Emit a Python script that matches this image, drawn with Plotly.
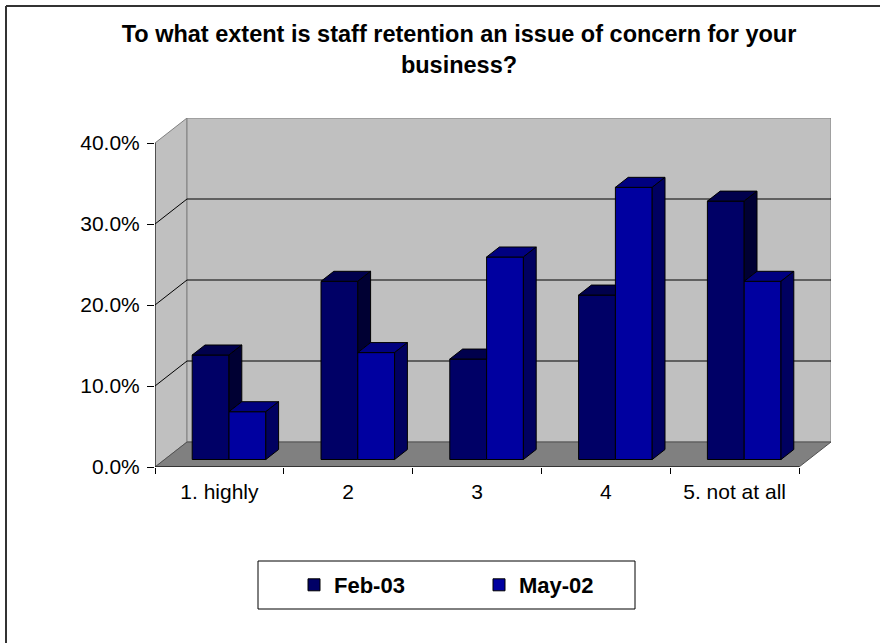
import plotly.graph_objects as go

categories = ["1. highly", "2", "3", "4", "5. not at all"]
feb03 = [12.9, 22.0, 12.4, 20.3, 31.9]
may02 = [5.9, 13.2, 25.0, 33.6, 22.0]
y_ticks = [0, 10, 20, 30, 40]
y_ticktext = [f"{v:.1f}%" for v in y_ticks]

FONT = "Liberation Sans, Arial, sans-serif"

# Pixel geometry of the plotting box (front axes + receding 3-D walls)
PX_CAT = 128.8          # px per category on the front axis
PX_PCT = 8.1            # px per percentage point
WALL_DX, WALL_DY = 32, 25
L, T = 155, 118
W = len(categories) * PX_CAT + WALL_DX
H = y_ticks[-1] * PX_PCT + WALL_DY
R = 880 - L - W
B = 643 - T - H

# Wall depth expressed in data units
DX = WALL_DX / PX_CAT
DY = WALL_DY / PX_PCT
X0, X1 = -0.5, len(categories) - 0.5
YMAX = y_ticks[-1]

# Bars: gap width 150 %, bars sit in the middle 40 % of the depth
BAR_W = 1 / 3.5
fx, fy = 0.3 * DX, 0.3 * DY
bx, by = 0.4 * DX, 0.4 * DY

COL = {
    "Feb-03": {"front": "#000066", "top": "#00004C", "side": "#000033"},
    "May-02": {"front": "#0000A0", "top": "#000080", "side": "#000060"},
}


def px_to_paper_x(px):
    return (px - L) / W


def px_to_paper_y(py):
    return (T + H - py) / H


def poly_xy(polys):
    xs, ys = [], []
    for p in polys:
        for (a, b) in p + [p[0]]:
            xs.append(a)
            ys.append(b)
        xs.append(None)
        ys.append(None)
    return xs, ys


fig = go.Figure()

# Front faces of the bars
idx = list(range(len(categories)))
fig.add_trace(go.Bar(
    x=idx, y=feb03, base=fy, offset=-BAR_W + fx, width=BAR_W, name="Feb-03",
    marker=dict(color=COL["Feb-03"]["front"], line=dict(color="black", width=1)),
    hoverinfo="skip"))
fig.add_trace(go.Bar(
    x=idx, y=may02, base=fy, offset=fx, width=BAR_W, name="May-02",
    marker=dict(color=COL["May-02"]["front"], line=dict(color="black", width=1)),
    hoverinfo="skip"))

# Top and side faces, clipped where the neighbouring front face hides them
feb_tops, feb_sides, may_tops, may_sides = [], [], [], []
for i, (vf, vm) in enumerate(zip(feb03, may02)):
    xl, xr = i - BAR_W + fx, i + fx
    top = vf + fy
    mtop = vm + fy
    if vm > vf:
        feb_tops.append([(xl, top), (xr, top), (xr, top + by), (xl + bx, top + by)])
    else:
        feb_tops.append([(xl, top), (xr, top), (xr + bx, top + by), (xl + bx, top + by)])
        feb_sides.append([(xr, mtop), (xr + bx, mtop + by), (xr + bx, top + by), (xr, top)])
    ml, mr = i + fx, i + BAR_W + fx
    may_tops.append([(ml, mtop), (mr, mtop), (mr + bx, mtop + by), (ml + bx, mtop + by)])
    may_sides.append([(mr, fy), (mr + bx, fy + by), (mr + bx, mtop + by), (mr, mtop)])

for polys, color in [(feb_tops, COL["Feb-03"]["top"]), (feb_sides, COL["Feb-03"]["side"]),
                     (may_tops, COL["May-02"]["top"]), (may_sides, COL["May-02"]["side"])]:
    xs, ys = poly_xy(polys)
    fig.add_trace(go.Scatter(x=xs, y=ys, mode="lines", fill="toself", fillcolor=color,
                             line=dict(color="black", width=1), showlegend=False,
                             hoverinfo="skip"))

# Walls, floor and gridlines
shapes = []
shapes.append(dict(type="path", layer="below", xref="x", yref="y",
                   path=f"M {X0},0 L {X0+DX},{DY} L {X0+DX},{YMAX+DY} L {X0},{YMAX} Z",
                   fillcolor="#C0C0C0", line=dict(color="#808080", width=1)))
shapes.append(dict(type="rect", layer="below", xref="x", yref="y",
                   x0=X0 + DX, x1=X1 + DX, y0=DY, y1=YMAX + DY,
                   fillcolor="#C0C0C0", line=dict(color="#808080", width=1)))
shapes.append(dict(type="path", layer="below", xref="x", yref="y",
                   path=f"M {X0},0 L {X1},0 L {X1+DX},{DY} L {X0+DX},{DY} Z",
                   fillcolor="#808080", line=dict(color="#505050", width=1)))
for t in y_ticks[1:-1]:
    shapes.append(dict(type="line", layer="below", xref="x", yref="y",
                       x0=X0 + DX, x1=X1 + DX, y0=t + DY, y1=t + DY,
                       line=dict(color="black", width=1)))
    shapes.append(dict(type="line", layer="below", xref="x", yref="y",
                       x0=X0, x1=X0 + DX, y0=t, y1=t + DY,
                       line=dict(color="black", width=1)))
# Front axis lines
shapes.append(dict(type="line", layer="below", xref="x", yref="y",
                   x0=X0, x1=X0, y0=0, y1=YMAX, line=dict(color="black", width=1)))
shapes.append(dict(type="line", layer="below", xref="x", yref="y",
                   x0=X0, x1=X1, y0=0, y1=0, line=dict(color="black", width=1)))

# Legend frame
shapes.append(dict(type="rect", xref="paper", yref="paper",
                   x0=px_to_paper_x(258), x1=px_to_paper_x(635),
                   y0=px_to_paper_y(609), y1=px_to_paper_y(561),
                   line=dict(color="black", width=1), fillcolor="rgba(0,0,0,0)"))
# Chart frame
shapes.append(dict(type="line", xref="paper", yref="paper",
                   x0=px_to_paper_x(6), x1=px_to_paper_x(900),
                   y0=px_to_paper_y(6), y1=px_to_paper_y(6),
                   line=dict(color="#333333", width=2)))
shapes.append(dict(type="line", xref="paper", yref="paper",
                   x0=px_to_paper_x(6), x1=px_to_paper_x(6),
                   y0=px_to_paper_y(6), y1=px_to_paper_y(700),
                   line=dict(color="#333333", width=2)))

fig.update_layout(
    width=880, height=643,
    margin=dict(l=L, r=R, t=T, b=B),
    paper_bgcolor="white", plot_bgcolor="white",
    barmode="overlay",
    font=dict(family=FONT, size=21, color="black"),
    title=dict(
        text="<b>To what extent is staff retention an issue of concern for your<br>business?</b>",
        x=459 / 880, xref="container", xanchor="center",
        y=1 - 42 / 643, yref="container", yanchor="top",
        font=dict(family=FONT, size=23.5, color="black")),
    shapes=shapes,
    showlegend=True,
    legend=dict(orientation="h", x=px_to_paper_x(294), xanchor="left",
                y=px_to_paper_y(585), yanchor="middle",
                font=dict(family=FONT, size=22, color="black", weight="bold"),
                bgcolor="rgba(0,0,0,0)", borderwidth=0,
                entrywidth=140, itemwidth=30),
    xaxis=dict(range=[X0, X0 + W / PX_CAT], tickmode="array", tickvals=idx,
               ticktext=categories, ticks="", showgrid=False, zeroline=False,
               showline=False, ticklabelstandoff=10,
               minor=dict(tickmode="array", tickvals=[X0 + k for k in range(len(categories) + 1)],
                          ticks="outside", ticklen=6, tickcolor="black", tickwidth=1,
                          showgrid=False),
               fixedrange=True),
    yaxis=dict(range=[0, YMAX + DY], tickmode="array", tickvals=y_ticks,
               ticktext=y_ticktext, ticks="outside", ticklen=7,
               tickcolor="black", tickwidth=1, showgrid=False, zeroline=False,
               showline=False, ticklabelstandoff=3, fixedrange=True),
)

fig.write_html("out.html")
